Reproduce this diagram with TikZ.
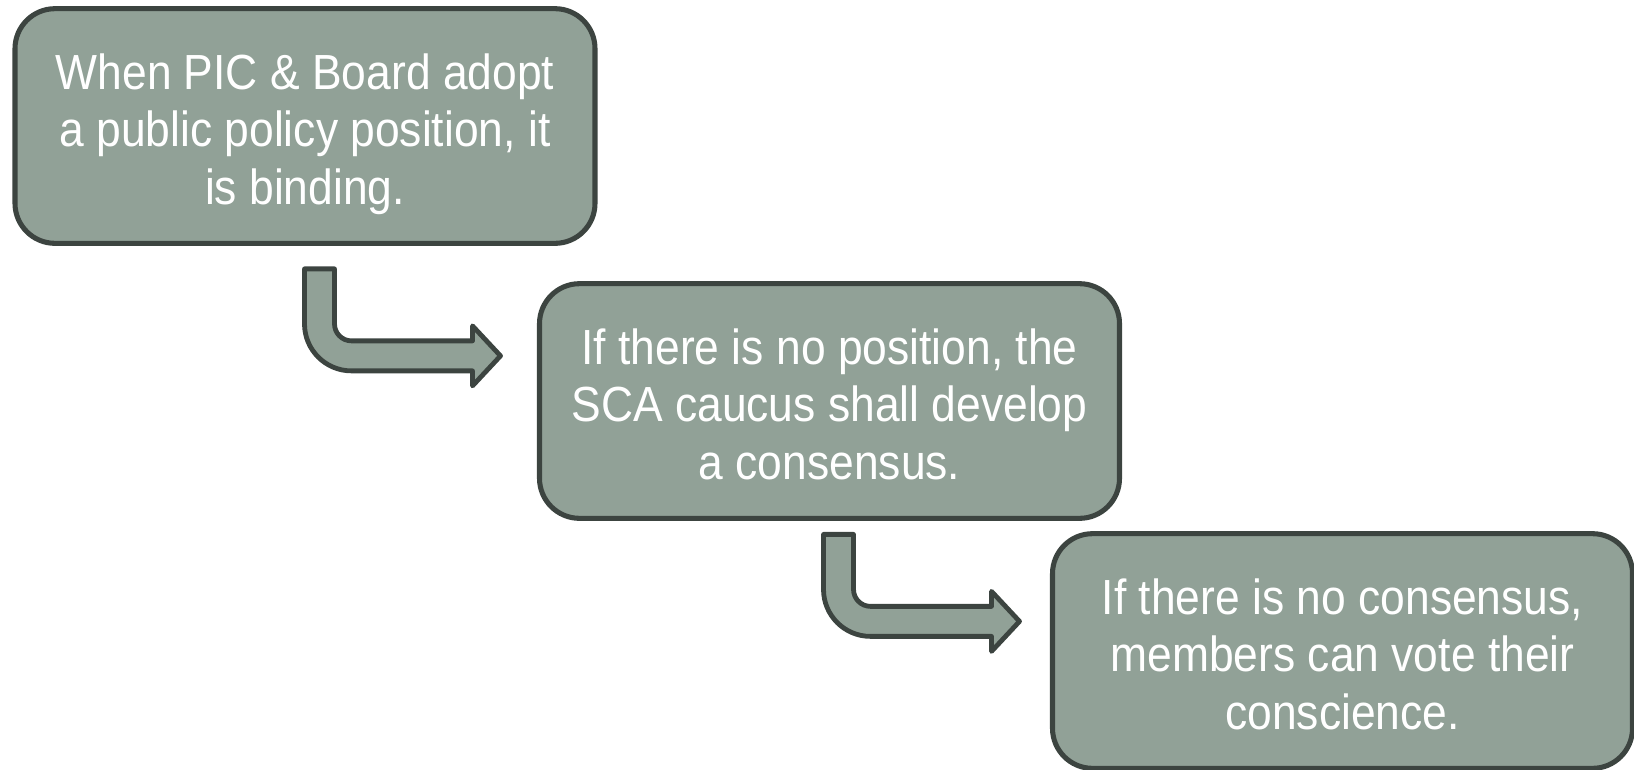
\documentclass[tikz,border=0pt]{standalone}
\usepackage{fontspec}
\setmainfont[FakeStretch=0.9]{Liberation Sans}
\usetikzlibrary{calc}

\definecolor{boxfill}{RGB}{145,161,151}
\definecolor{boxline}{RGB}{60,68,64}

% struts to keep the three-line texts at the same height in each box
\newcommand{\linetop}{\rule{0pt}{39pt}}
\newcommand{\linebot}{\rule[-8pt]{0pt}{8pt}}

\tikzset{every picture/.style={line width=0.75pt}}
\tikzset{
  stepbox/.style={draw=boxline, fill=boxfill, line width=3.8pt, rounded corners=30pt,
    minimum width=435pt, minimum height=176pt, inner sep=0pt, align=center,
    text=white, font=\fontsize{37}{43}\selectfont},
  bentarrow/.style={draw=boxline, fill=boxfill, line width=3.6pt, line join=round}
}

\begin{document}
\begin{tikzpicture}[x=0.75pt,y=0.75pt,yscale=-1,xscale=1]
\useasboundingbox (0,0) rectangle (1634,769);

% Boxes
\node [stepbox] (policy) at (305,126) {\linetop When PIC \& Board adopt\\a public policy position, it\\is binding.\linebot};
\node [stepbox] (caucus) at (829.5,401) {\linetop If there is no position, the\\SCA caucus shall develop\\a consensus.\linebot};
\node [stepbox] (conscience) at (1342.5,651) {\linetop If there is no consensus,\\members can vote their\\conscience.\linebot};

% Bent arrows
\coordinate (bendA) at ($(policy.south)+(-0.5,23)$);
\coordinate (bendB) at ($(caucus.south)+(-6,13.5)$);

\begin{scope}[shift={(bendA)}]
\draw [bentarrow] (0,0) -- (30,0) -- (30,55) .. controls (30,64.4) and (37.6,72) .. (47,72) -- (168,72) -- (168,57) -- (196,87) -- (168,117) -- (168,102) -- (47,102) .. controls (21,102) and (0,81) .. (0,55) -- cycle ;
\end{scope}
\begin{scope}[shift={(bendB)}]
\draw [bentarrow] (0,0) -- (30,0) -- (30,55) .. controls (30,64.4) and (37.6,72) .. (47,72) -- (168,72) -- (168,57) -- (196,87) -- (168,117) -- (168,102) -- (47,102) .. controls (21,102) and (0,81) .. (0,55) -- cycle ;
\end{scope}

\end{tikzpicture}
\end{document}
